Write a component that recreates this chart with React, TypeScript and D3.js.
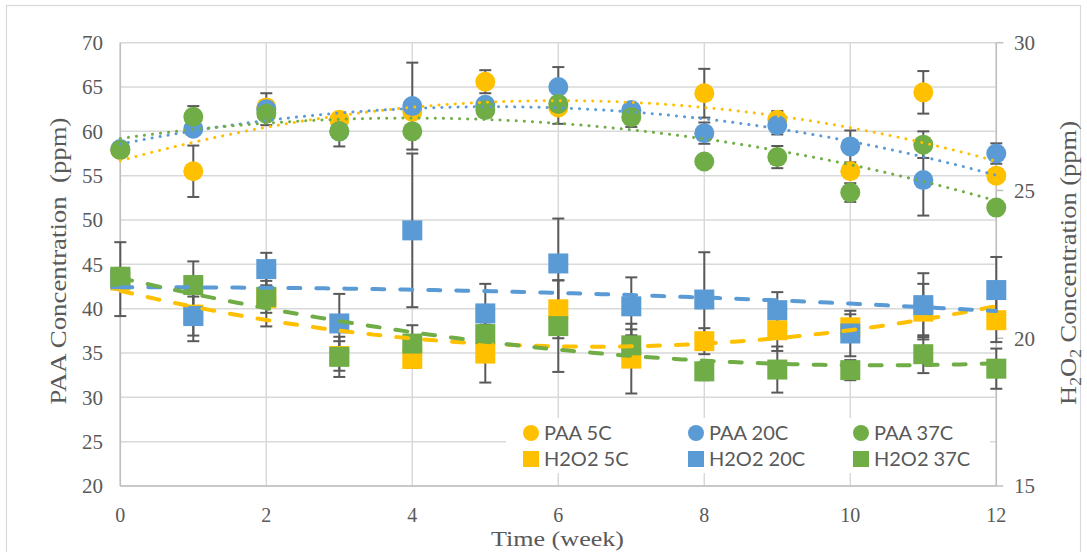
import React from 'react';
import * as d3 from 'd3';

const weeks = [0, 1, 2, 3, 4, 5, 6, 7, 8, 9, 10, 11, 12];

// PAA (left axis, ppm)
const paa5C = [57.9, 55.5, 62.7, 61.3, 62.2, 65.6, 62.7, 62.2, 64.3, 61.3, 55.5, 64.4, 55.0];
const paa20C = [58.0, 60.3, 62.5, 60.0, 62.85, 63.0, 65.0, 62.4, 59.8, 60.7, 58.3, 54.5, 57.5];
const paa37C = [57.9, 61.65, 62.0, 60.0, 60.0, 62.4, 63.1, 61.6, 56.6, 57.1, 53.1, 58.5, 51.4];
const paa5CErr = [0, 2.9, 0.8, 0.6, 0.5, 1.3, 0.6, 0.6, 2.75, 1.0, 0.5, 2.4, 0.5];
const paa20CErr = [0, 0.6, 1.8, 0.6, 4.9, 0.6, 2.25, 0.6, 1.2, 1.05, 1.8, 4.0, 1.15];
const paa37CErr = [0, 1.2, 0.6, 1.7, 0.6, 0.6, 2.25, 1.1, 0.6, 1.25, 1.05, 1.5, 0.6];

// H2O2 (right axis, ppm)
const h2o2_5C = [21.95, 20.8, 21.35, 19.4, 19.3, 19.48, 20.98, 19.31, 19.9, 20.27, 20.37, 20.9, 20.61];
const h2o2_20C = [22.0, 20.75, 22.34, 20.5, 23.65, 20.84, 22.53, 21.08, 21.31, 20.95, 20.16, 21.12, 21.63];
const h2o2_37C = [22.08, 21.8, 21.4, 19.37, 19.82, 20.14, 20.41, 19.76, 18.88, 18.94, 18.92, 19.46, 18.97];
const h2o2_5CErr = [0.3, 0.9, 0.95, 0.5, 0.3, 0.98, 0.98, 1.18, 0.44, 0.7, 0.44, 0.94, 0.74];
const h2o2_20CErr = [1.25, 0.66, 0.55, 1.0, 2.6, 1.0, 1.52, 0.98, 1.6, 0.61, 0.77, 1.08, 1.12];
const h2o2_37CErr = [0.3, 0.8, 0.54, 0.68, 0.62, 0.5, 1.55, 0.54, 0.3, 0.78, 0.34, 0.64, 0.68];

const leftTicks = [20, 25, 30, 35, 40, 45, 50, 55, 60, 65, 70];
const rightTicks = [15, 20, 25, 30];
const xTicks = [0, 2, 4, 6, 8, 10, 12];

const YELLOW = '#FFC000';
const BLUE = '#5B9BD5';
const GREEN = '#70AD47';
const TEXT = '#595959';
const GRID = '#D9D9D9';
const ERR = '#595959';

type Series = {
  name: string;
  values: number[];
  err: number[];
  color: string;
  axis: 'left' | 'right';
  shape: 'circle' | 'square';
};

const series: Series[] = [
  { name: 'PAA 5C', values: paa5C, err: paa5CErr, color: YELLOW, axis: 'left', shape: 'circle' },
  { name: 'PAA 20C', values: paa20C, err: paa20CErr, color: BLUE, axis: 'left', shape: 'circle' },
  { name: 'PAA 37C', values: paa37C, err: paa37CErr, color: GREEN, axis: 'left', shape: 'circle' },
  { name: 'H2O2 5C', values: h2o2_5C, err: h2o2_5CErr, color: YELLOW, axis: 'right', shape: 'square' },
  { name: 'H2O2 20C', values: h2o2_20C, err: h2o2_20CErr, color: BLUE, axis: 'right', shape: 'square' },
  { name: 'H2O2 37C', values: h2o2_37C, err: h2o2_37CErr, color: GREEN, axis: 'right', shape: 'square' },
];

// quadratic least-squares (Excel polynomial trendline, order 2)
function polyFit2(xs: number[], ys: number[]): [number, number, number] {
  let s0 = 0, s1 = 0, s2 = 0, s3 = 0, s4 = 0, t0 = 0, t1 = 0, t2 = 0;
  xs.forEach((x, i) => {
    const y = ys[i];
    s0 += 1; s1 += x; s2 += x * x; s3 += x * x * x; s4 += x * x * x * x;
    t0 += y; t1 += x * y; t2 += x * x * y;
  });
  const M = [
    [s0, s1, s2, t0],
    [s1, s2, s3, t1],
    [s2, s3, s4, t2],
  ];
  for (let i = 0; i < 3; i++) {
    let p = i;
    for (let r = i + 1; r < 3; r++) if (Math.abs(M[r][i]) > Math.abs(M[p][i])) p = r;
    [M[i], M[p]] = [M[p], M[i]];
    for (let r = 0; r < 3; r++) {
      if (r === i) continue;
      const f = M[r][i] / M[i][i];
      for (let c = i; c < 4; c++) M[r][c] -= f * M[i][c];
    }
  }
  return [M[0][3] / M[0][0], M[1][3] / M[1][1], M[2][3] / M[2][2]];
}

const X0 = 120.3, X1 = 996.3, YT = 42.7, YB = 486;

export default function App() {
  const x = d3.scaleLinear().domain([0, 12]).range([X0, X1]);
  const yL = d3.scaleLinear().domain([20, 70]).range([YB, YT]);
  const yR = d3.scaleLinear().domain([15, 30]).range([YB, YT]);
  const yOf = (s: Series) => (s.axis === 'left' ? yL : yR);

  const serif = '"Liberation Serif", "Times New Roman", serif';
  const sans = 'Lato, "Open Sans", sans-serif';

  const trendSamples = d3.range(0, 12.0001, 0.1);

  const legendCols = [531, 696, 861];
  const legendRows = [433, 459];

  return (
    <svg width={1087} height={552} style={{ position: 'absolute', left: 0, top: 0 }}>
      <rect x={0} y={0} width={1087} height={552} fill="#fff" />
      <rect x={6.5} y={5.5} width={1074} height={570} fill="none" stroke={GRID} strokeWidth={1.2} />

      {/* gridlines */}
      {leftTicks.map((t) => (
        <line key={'h' + t} x1={X0} x2={X1} y1={yL(t)} y2={yL(t)} stroke={GRID} strokeWidth={1.5} />
      ))}
      {xTicks.map((t) => (
        <line key={'v' + t} x1={x(t)} x2={x(t)} y1={YT} y2={YB} stroke={GRID} strokeWidth={1.5} />
      ))}
      {/* axes lines */}
      <line x1={X0} x2={X0} y1={YT} y2={YB} stroke="#BFBFBF" strokeWidth={1.5} />
      <line x1={X0} x2={X1} y1={YB} y2={YB} stroke="#BFBFBF" strokeWidth={1.5} />
      <line x1={X1} x2={X1} y1={YT} y2={YB} stroke="#BFBFBF" strokeWidth={1.5} />
      {rightTicks.map((t) => (
        <line key={'rt' + t} x1={X1} x2={X1 + 7} y1={yR(t)} y2={yR(t)} stroke="#BFBFBF" strokeWidth={1.5} />
      ))}

      {/* tick labels */}
      {leftTicks.map((t) => (
        <text key={'lt' + t} x={103} y={yL(t)} dy="0.35em" textAnchor="end" fontFamily={serif} fontSize={21} fill={TEXT}>
          {t}
        </text>
      ))}
      {rightTicks.map((t) => (
        <text key={'rl' + t} x={1014} y={yR(t)} dy="0.35em" textAnchor="start" fontFamily={serif} fontSize={21} fill={TEXT}>
          {t}
        </text>
      ))}
      {xTicks.map((t) => (
        <text key={'xl' + t} x={x(t)} y={515} dy="0.35em" textAnchor="middle" fontFamily={serif} fontSize={20} fill={TEXT}>
          {t}
        </text>
      ))}

      {/* axis titles */}
      <text
        x={557.5}
        y={546}
        textAnchor="middle"
        fontFamily={serif}
        fontSize={22}
        fill={TEXT}
        textLength={133}
        lengthAdjust="spacingAndGlyphs"
      >
        Time (week)
      </text>
      <text
        transform={`translate(58, 261) rotate(-90)`}
        dy="0.35em"
        textAnchor="middle"
        fontFamily={serif}
        fontSize={24}
        fill={TEXT}
        textLength={287}
        lengthAdjust="spacingAndGlyphs"
        style={{ whiteSpace: 'pre' }}
      >
        {'PAA Concentration  (ppm)'}
      </text>
      <text
        transform={`translate(1068, 263) rotate(-90)`}
        dy="0.35em"
        textAnchor="middle"
        fontFamily={serif}
        fontSize={24}
        fill={TEXT}
        textLength={284}
        lengthAdjust="spacingAndGlyphs"
      >
        <tspan>H</tspan>
        <tspan fontSize={16} dy={5}>2</tspan>
        <tspan dy={-5}>O</tspan>
        <tspan fontSize={16} dy={5}>2</tspan>
        <tspan dy={-5}> Concentration (ppm)</tspan>
      </text>

      {/* error bars */}
      {series.map((s) => {
        const y = yOf(s);
        return (
          <g key={'e' + s.name} stroke={ERR} strokeWidth={2}>
            {weeks.map((w, i) =>
              s.err[i] > 0 ? (
                <g key={i}>
                  <line x1={x(w)} x2={x(w)} y1={y(s.values[i] - s.err[i])} y2={y(s.values[i] + s.err[i])} />
                  <line x1={x(w) - 6} x2={x(w) + 6} y1={y(s.values[i] - s.err[i])} y2={y(s.values[i] - s.err[i])} />
                  <line x1={x(w) - 6} x2={x(w) + 6} y1={y(s.values[i] + s.err[i])} y2={y(s.values[i] + s.err[i])} />
                </g>
              ) : null
            )}
          </g>
        );
      })}

      {/* markers */}
      {series.map((s) => {
        const y = yOf(s);
        return (
          <g key={'m' + s.name} fill={s.color}>
            {weeks.map((w, i) =>
              s.shape === 'circle' ? (
                <circle key={i} cx={x(w)} cy={y(s.values[i])} r={10} />
              ) : (
                <rect key={i} x={x(w) - 10} y={y(s.values[i]) - 10} width={20} height={20} />
              )
            )}
          </g>
        );
      })}

      {/* trendlines */}
      {series.map((s) => {
        const y = yOf(s);
        const [a, b, c] = polyFit2(weeks, s.values);
        const line = d3
          .line<number>()
          .x((t) => x(t))
          .y((t) => y(a + b * t + c * t * t));
        const dotted = s.axis === 'left';
        return (
          <path
            key={'t' + s.name}
            d={line(trendSamples) || ''}
            fill="none"
            stroke={s.color}
            strokeWidth={dotted ? 3 : 4}
            strokeLinecap="round"
            strokeDasharray={dotted ? '0.1 8' : '12 16'}
          />
        );
      })}

      {/* legend */}
      <rect x={506} y={418} width={484} height={55} fill="#fff" />
      {series.map((s, i) => {
        const cx = legendCols[i % 3];
        const cy = legendRows[Math.floor(i / 3)];
        return (
          <g key={'l' + s.name}>
            {s.shape === 'circle' ? (
              <circle cx={cx} cy={cy} r={8} fill={s.color} />
            ) : (
              <rect x={cx - 8} y={cy - 8} width={16} height={16} fill={s.color} />
            )}
            <text x={cx + 13} y={cy} dy="0.36em" fontFamily={sans} fontSize={20} fill={TEXT}>
              {s.name}
            </text>
          </g>
        );
      })}
    </svg>
  );
}
